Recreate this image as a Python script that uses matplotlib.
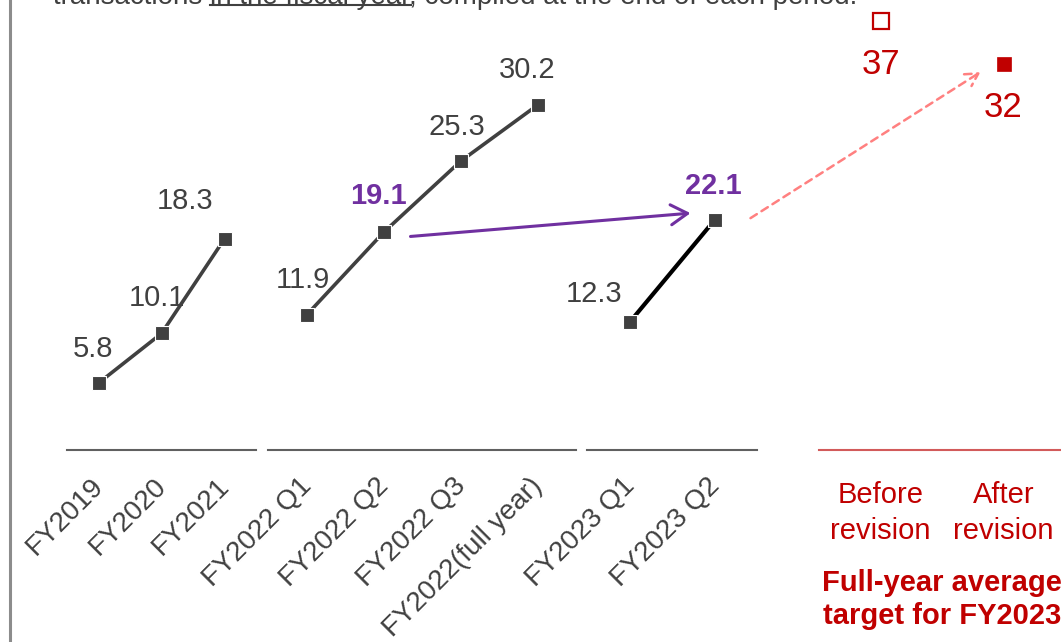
import matplotlib
matplotlib.use("Agg")
import matplotlib.pyplot as plt
from matplotlib.lines import Line2D
from matplotlib.transforms import ScaledTranslation, offset_copy

plt.rcParams["font.family"] = ["Liberation Sans", "DejaVu Sans"]

# values
annual_labels = ["FY2019", "FY2020", "FY2021"]
annual_values = [5.8, 10.1, 18.3]
fy2022_labels = ["FY2022 Q1", "FY2022 Q2", "FY2022 Q3", "FY2022(full year)"]
fy2022_values = [11.9, 19.1, 25.3, 30.2]
fy2023_labels = ["FY2023 Q1", "FY2023 Q2"]
fy2023_values = [12.3, 22.1]
target_labels = ["Before\nrevision", "After\nrevision"]
target_values = [37, 32]
target_title = "Full-year average\ntarget for FY2023"
note = "transactions in the fiscal year, compiled at the end of each period."
note_underlined = "in the fiscal year"

GRAY = "#404040"
PURPLE = "#7030A0"
RED = "#C00000"
PINK = "#FF8080"

W, H = 1061, 642
fig = plt.figure(figsize=(W / 100, H / 100), dpi=100)


def px_axes(x0, x1, top=0, bottom=450):
    ax = fig.add_axes([x0 / W, 1 - bottom / H, (x1 - x0) / W, (bottom - top) / H])
    ax.patch.set_alpha(0)
    for s in ["top", "right", "left"]:
        ax.spines[s].set_visible(False)
    ax.set_yticks([])
    ax.tick_params(axis="x", length=0)
    return ax


def draw_group(ax, labels, values, ylim, line_color, lw, offsets, bold=()):
    x = list(range(len(values)))
    ax.plot(x, values, color=line_color, lw=lw, marker="s", ms=10.5,
            mfc=GRAY, mec="white", mew=0.8, zorder=3)
    ax.set_xlim(-0.5, len(values) - 0.5)
    ax.set_ylim(*ylim)
    ax.spines["bottom"].set_color("#606060")
    ax.spines["bottom"].set_linewidth(1.5)
    for i, v in enumerate(values):
        hl = i in bold
        ax.annotate(f"{v:.1f}", (i, v), xytext=offsets[i], textcoords="offset pixels",
                    ha="center", va="baseline", fontsize=21,
                    color=PURPLE if hl else GRAY, fontweight="bold" if hl else "normal")
    ax.set_xticks(x, labels, rotation=45, ha="right", va="top",
                  rotation_mode="anchor", fontsize=20, color=GRAY)
    ax.tick_params(axis="x", pad=16.5)
    for lbl in ax.get_xticklabels():
        lbl.set_transform(lbl.get_transform() + ScaledTranslation(-0.08, 0, fig.dpi_scale_trans))


ax1 = px_axes(67, 256)
draw_group(ax1, annual_labels, annual_values, (0, 39.0), GRAY, 2.6,
           [(-5, 26), (-5, 27), (-39, 30)])

ax2 = px_axes(268, 576)
draw_group(ax2, fy2022_labels, fy2022_values, (0.14, 39.36), GRAY, 2.6,
           [(-4, 27), (-5, 28), (-4, 26), (-10, 27)], bold=(1,))

ax3 = px_axes(587, 757)
draw_group(ax3, fy2023_labels, fy2023_values, (0.07, 43.2), "black", 3.0,
           [(-35, 20), (-1, 26)], bold=(1,))

# target panel sits on its own scale on the slide
axT = px_axes(819, 1065)
axT.set_xlim(-0.5, 1.5)
axT.set_ylim(-12.83, 39.44)
axT.spines["bottom"].set_color("#D25A5A")
axT.spines["bottom"].set_linewidth(1.5)
axT.plot([0], target_values[:1], ls="none", marker="s", ms=11, mfc="white", mec=RED, mew=1.6)
axT.plot([1], target_values[1:], ls="none", marker="s", ms=10, mfc=RED, mec=RED, mew=0.5)
for i, v in enumerate(target_values):
    axT.annotate(f"{v}", (i, v), xytext=(0, -53), textcoords="offset pixels",
                 ha="center", va="baseline", fontsize=25, color=RED)
axT.set_xticks([0, 1], target_labels, fontsize=21, color=RED, ha="center",
               va="top", linespacing=1.4)
axT.tick_params(axis="x", pad=22)
axT.text(0.5, -0.332, target_title, transform=axT.transAxes, ha="center", va="center",
         fontsize=21, fontweight="bold", color=RED, linespacing=1.25)

# Q2 FY2022 -> Q2 FY2023 comparison arrow
ax2.annotate("", xy=(1, fy2023_values[1]),
             xycoords=offset_copy(ax3.transData, x=-24, y=7, units="dots"),
             xytext=(1, fy2022_values[1]),
             textcoords=offset_copy(ax2.transData, x=27, y=-4, units="dots"),
             arrowprops=dict(arrowstyle="->,head_length=0.6,head_width=0.36",
                             mutation_scale=20, color=PURPLE, lw=2.2,
                             shrinkA=0, shrinkB=0))

# Q2 FY2023 -> revised target arrow
ax3.annotate("", xy=(1, target_values[1]),
             xycoords=offset_copy(axT.transData, x=-23, y=-8, units="dots"),
             xytext=(1, fy2023_values[1]),
             textcoords=offset_copy(ax3.transData, x=36, y=2, units="dots"),
             arrowprops=dict(arrowstyle="->,head_length=0.45,head_width=0.25",
                             mutation_scale=20, color=PINK, lw=1.8, ls=(0, (3, 2.2)),
                             shrinkA=0, shrinkB=0))

# note line cut off at the top of the slide, with underlined phrase
x0, y0 = 53 / W, 1 - 3.5 / H
fig.text(x0, y0, note, fontsize=20, color=GRAY, ha="left", va="baseline")
r = fig.canvas.get_renderer()


def text_width(s):
    t = fig.text(0, 0, s, fontsize=20)
    w = t.get_window_extent(renderer=r).width
    t.remove()
    return w


head = note[:note.index(note_underlined)]
u0 = 53 + text_width(head + "in") - text_width("in")
u1 = 53 + text_width(head + note_underlined)
fig.add_artist(Line2D([u0 / W, u1 / W], [1 - 5.3 / H] * 2, color=GRAY, lw=1.5))

# slide border on the left
fig.add_artist(Line2D([9.5 / W] * 2, [0, 1], color="#8C8C8C", lw=2.2))

fig.savefig("out.png", dpi=100)
